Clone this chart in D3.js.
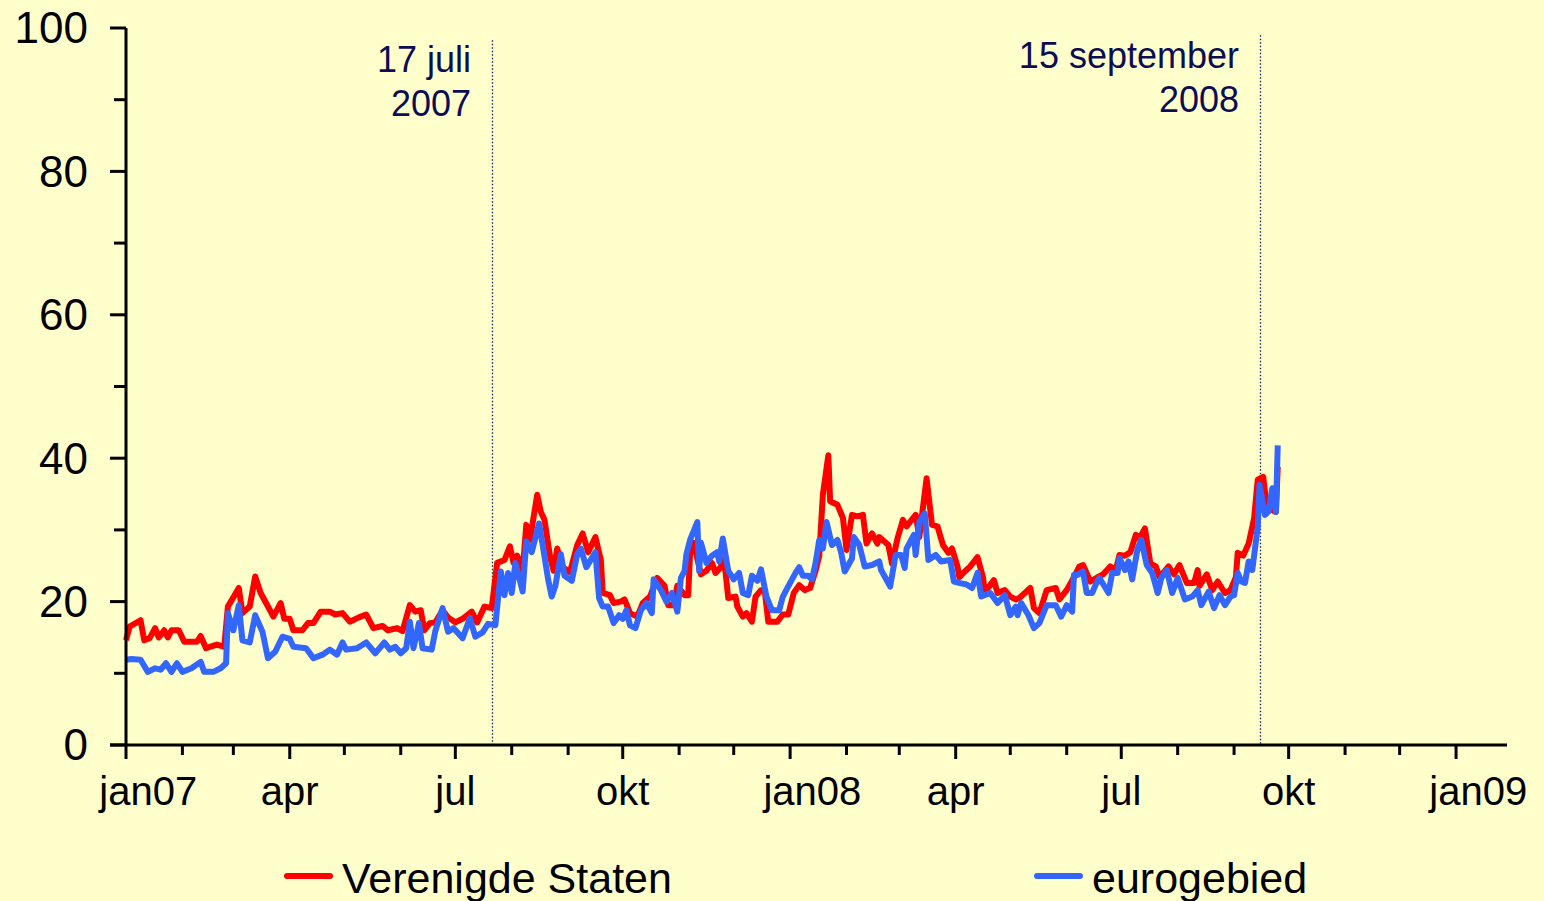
<!DOCTYPE html>
<html>
<head>
<meta charset="utf-8">
<script src="https://cdn.jsdelivr.net/npm/d3@7"></script>
<style>
  html, body { margin: 0; padding: 0; background: #FFFFCC; }
  svg { display: block; }
  text { font-family: "Liberation Sans", Arial, Helvetica, sans-serif; }
</style>
</head>
<body>
<svg id="chart" width="1544" height="901"></svg>
<script>
// ---------- data ----------
const usDates = ["2007-01-01","2007-01-03","2007-01-09","2007-01-11","2007-01-14","2007-01-17","2007-01-19","2007-01-22","2007-01-24","2007-01-26","2007-01-30","2007-02-02","2007-02-09","2007-02-11","2007-02-14","2007-02-20","2007-02-24","2007-02-26","2007-03-04","2007-03-06","2007-03-10","2007-03-13","2007-03-16","2007-03-19","2007-03-23","2007-03-27","2007-03-29","2007-04-01","2007-04-03","2007-04-08","2007-04-11","2007-04-14","2007-04-18","2007-04-23","2007-04-26","2007-04-30","2007-05-04","2007-05-09","2007-05-13","2007-05-17","2007-05-22","2007-05-25","2007-05-30","2007-06-02","2007-06-06","2007-06-09","2007-06-12","2007-06-14","2007-06-17","2007-06-20","2007-06-24","2007-06-27","2007-07-01","2007-07-05","2007-07-10","2007-07-13","2007-07-17","2007-07-21","2007-07-24","2007-07-28","2007-07-31","2007-08-02","2007-08-04","2007-08-07","2007-08-09","2007-08-11","2007-08-15","2007-08-17","2007-08-19","2007-08-22","2007-08-24","2007-08-26","2007-08-29","2007-09-02","2007-09-06","2007-09-09","2007-09-12","2007-09-16","2007-09-19","2007-09-20","2007-09-24","2007-09-26","2007-09-30","2007-10-02","2007-10-05","2007-10-09","2007-10-12","2007-10-16","2007-10-20","2007-10-24","2007-10-26","2007-10-29","2007-10-31","2007-11-04","2007-11-06","2007-11-07","2007-11-09","2007-11-13","2007-11-16","2007-11-19","2007-11-21","2007-11-24","2007-11-25","2007-11-28","2007-12-02","2007-12-03","2007-12-06","2007-12-08","2007-12-11","2007-12-13","2007-12-16","2007-12-18","2007-12-20","2007-12-25","2007-12-28","2007-12-31","2008-01-03","2008-01-06","2008-01-09","2008-01-12","2008-01-15","2008-01-17","2008-01-19","2008-01-22","2008-01-23","2008-01-27","2008-01-30","2008-02-01","2008-02-04","2008-02-07","2008-02-10","2008-02-12","2008-02-15","2008-02-18","2008-02-19","2008-02-24","2008-02-26","2008-02-29","2008-03-03","2008-03-05","2008-03-10","2008-03-12","2008-03-16","2008-03-19","2008-03-22","2008-03-25","2008-03-28","2008-03-30","2008-04-02","2008-04-03","2008-04-06","2008-04-09","2008-04-13","2008-04-16","2008-04-17","2008-04-22","2008-04-24","2008-04-28","2008-05-01","2008-05-04","2008-05-06","2008-05-12","2008-05-14","2008-05-17","2008-05-21","2008-05-26","2008-05-28","2008-06-01","2008-06-05","2008-06-08","2008-06-10","2008-06-14","2008-06-18","2008-06-21","2008-06-25","2008-06-28","2008-06-30","2008-07-03","2008-07-06","2008-07-09","2008-07-11","2008-07-14","2008-07-17","2008-07-20","2008-07-22","2008-07-27","2008-07-30","2008-08-02","2008-08-06","2008-08-10","2008-08-12","2008-08-13","2008-08-17","2008-08-20","2008-08-23","2008-08-27","2008-08-30","2008-09-02","2008-09-03","2008-09-06","2008-09-09","2008-09-12","2008-09-14","2008-09-17","2008-09-19","2008-09-23","2008-09-24","2008-09-25"];
const usValues = [14.6,16.5,17.4,14.6,14.9,16.3,15.0,16.0,15.0,16.0,16.0,14.4,14.4,15.2,13.5,14.0,13.7,19.3,21.9,18.4,19.3,23.5,21.2,19.8,17.9,19.8,17.6,17.6,16.0,16.0,17.0,17.0,18.6,18.6,18.2,18.4,17.2,17.8,18.2,16.3,16.6,16.0,16.3,15.9,19.5,18.6,18.8,16.0,17.0,17.1,18.8,17.8,17.1,17.6,18.6,17.1,19.3,19.1,25.4,25.8,27.7,25.4,26.4,24.3,30.7,28.6,34.9,32.5,31.4,26.4,24.3,27.4,24.8,24.1,27.9,29.5,26.9,29.0,25.8,21.2,20.9,19.8,20.0,20.3,18.4,17.9,19.8,20.7,23.3,22.2,19.5,19.5,22.2,20.9,20.9,26.7,28.2,23.8,24.3,25.4,24.0,24.8,27.7,20.5,20.7,19.3,17.9,18.4,17.2,20.7,21.6,21.6,17.2,17.2,18.2,18.2,21.2,22.3,21.6,21.9,24.3,26.4,34.9,40.4,34.0,33.5,31.7,27.2,32.1,31.9,32.1,28.1,29.5,28.1,29.0,27.9,25.3,28.8,31.4,30.5,32.1,29.0,37.2,30.7,30.5,27.9,26.8,27.4,24.9,23.4,24.2,24.9,26.2,23.4,21.3,23.0,21.2,21.6,20.7,20.3,20.5,21.9,19.1,18.4,21.6,21.9,20.3,21.6,23.4,24.9,25.1,22.8,23.4,23.8,24.9,24.4,26.5,26.4,26.9,29.3,28.8,30.2,25.3,24.9,23.4,24.9,23.8,25.1,22.6,22.6,24.4,22.2,23.8,21.6,22.8,21.2,21.6,23.4,26.8,26.4,28.1,31.6,37.0,37.4,33.2,32.6,32.5,38.8];

const euDates = ["2007-01-01","2007-01-04","2007-01-09","2007-01-13","2007-01-17","2007-01-20","2007-01-23","2007-01-26","2007-01-29","2007-02-01","2007-02-06","2007-02-11","2007-02-13","2007-02-18","2007-02-22","2007-02-25","2007-02-26","2007-03-01","2007-03-04","2007-03-06","2007-03-10","2007-03-13","2007-03-17","2007-03-20","2007-03-24","2007-03-28","2007-04-01","2007-04-03","2007-04-10","2007-04-14","2007-04-19","2007-04-23","2007-04-27","2007-04-30","2007-05-02","2007-05-08","2007-05-13","2007-05-18","2007-05-23","2007-05-26","2007-05-29","2007-06-01","2007-06-04","2007-06-06","2007-06-08","2007-06-11","2007-06-13","2007-06-18","2007-06-20","2007-06-24","2007-06-27","2007-06-30","2007-07-05","2007-07-09","2007-07-12","2007-07-16","2007-07-19","2007-07-23","2007-07-26","2007-07-28","2007-07-30","2007-08-01","2007-08-03","2007-08-07","2007-08-09","2007-08-12","2007-08-16","2007-08-18","2007-08-21","2007-08-23","2007-08-25","2007-08-28","2007-08-30","2007-09-03","2007-09-06","2007-09-08","2007-09-11","2007-09-16","2007-09-18","2007-09-20","2007-09-23","2007-09-26","2007-09-29","2007-10-01","2007-10-03","2007-10-05","2007-10-08","2007-10-11","2007-10-14","2007-10-17","2007-10-18","2007-10-22","2007-10-25","2007-10-28","2007-10-31","2007-11-02","2007-11-04","2007-11-05","2007-11-07","2007-11-11","2007-11-12","2007-11-13","2007-11-16","2007-11-19","2007-11-22","2007-11-23","2007-11-25","2007-11-28","2007-12-01","2007-12-04","2007-12-06","2007-12-09","2007-12-11","2007-12-14","2007-12-16","2007-12-19","2007-12-22","2007-12-26","2007-12-28","2008-01-01","2008-01-04","2008-01-06","2008-01-08","2008-01-11","2008-01-13","2008-01-15","2008-01-17","2008-01-19","2008-01-21","2008-01-24","2008-01-27","2008-01-29","2008-01-31","2008-02-04","2008-02-05","2008-02-08","2008-02-11","2008-02-15","2008-02-19","2008-02-20","2008-02-25","2008-02-28","2008-03-02","2008-03-04","2008-03-05","2008-03-09","2008-03-10","2008-03-12","2008-03-15","2008-03-17","2008-03-21","2008-03-24","2008-03-29","2008-03-31","2008-04-03","2008-04-07","2008-04-10","2008-04-13","2008-04-15","2008-04-20","2008-04-24","2008-04-28","2008-05-01","2008-05-04","2008-05-05","2008-05-07","2008-05-11","2008-05-14","2008-05-17","2008-05-21","2008-05-26","2008-05-29","2008-06-01","2008-06-04","2008-06-05","2008-06-07","2008-06-10","2008-06-12","2008-06-15","2008-06-17","2008-06-19","2008-06-24","2008-06-26","2008-06-29","2008-06-30","2008-07-03","2008-07-05","2008-07-07","2008-07-10","2008-07-12","2008-07-15","2008-07-18","2008-07-21","2008-07-23","2008-07-26","2008-07-29","2008-08-01","2008-08-05","2008-08-09","2008-08-12","2008-08-14","2008-08-18","2008-08-21","2008-08-24","2008-08-27","2008-08-30","2008-09-01","2008-09-03","2008-09-05","2008-09-07","2008-09-09","2008-09-11","2008-09-14","2008-09-15","2008-09-18","2008-09-20","2008-09-22","2008-09-24","2008-09-25"];
const euValues = [11.9,12.0,11.9,10.2,10.7,10.5,11.4,10.2,11.4,10.2,10.7,11.6,10.2,10.2,10.7,11.4,18.4,16.0,19.5,14.6,14.3,18.1,15.8,12.1,13.0,15.1,14.8,13.7,13.5,12.1,12.6,13.3,12.6,14.3,13.3,13.5,14.3,12.8,14.3,13.3,13.7,12.8,13.5,17.2,13.5,17.0,13.5,13.3,15.9,19.1,15.8,16.3,14.9,17.7,15.1,15.7,16.9,16.7,24.2,20.9,24.0,21.2,25.4,21.4,28.4,26.9,30.9,27.9,23.1,20.7,22.2,26.6,23.6,22.9,26.6,27.4,24.8,26.9,20.5,19.3,19.3,17.0,18.1,17.6,18.8,16.7,16.3,18.8,19.8,18.4,23.1,21.6,20.0,21.2,18.6,23.3,24.3,26.6,28.6,31.1,24.3,28.2,25.4,26.4,26.9,25.6,28.8,24.3,23.1,24.0,21.2,20.9,23.6,22.9,24.5,20.7,18.8,18.8,20.7,22.6,24.0,24.8,23.6,23.6,23.1,25.4,28.6,27.4,31.1,27.9,28.6,26.9,24.2,26.0,29.0,27.9,24.9,25.1,25.6,24.4,22.1,26.5,26.5,24.7,27.4,29.3,26.5,31.1,32.3,25.8,26.5,25.6,25.8,22.8,22.6,22.4,21.9,24.0,20.7,21.2,19.8,20.9,18.1,19.3,18.1,19.8,18.1,16.3,17.0,19.5,19.5,17.9,19.5,18.6,23.7,23.7,24.2,21.2,21.2,22.4,23.3,21.2,24.0,24.0,26.1,24.4,25.6,23.1,27.4,28.6,25.1,24.0,21.2,23.3,24.4,21.2,23.3,20.3,20.7,21.6,19.5,21.4,19.1,20.9,19.5,20.7,20.9,24.0,22.8,22.6,25.6,24.4,30.4,36.3,32.1,32.6,35.8,32.5,41.8];

const seriesNames = ["Verenigde Staten", "eurogebied"];
const yTickValues = [0, 20, 40, 60, 80, 100];
const xTickDates = ["2007-01-01","2007-04-01","2007-07-01","2007-10-01","2008-01-01","2008-04-01","2008-07-01","2008-10-01","2009-01-01"];
const xTickLabels = ["jan07","apr","jul","okt","jan08","apr","jul","okt","jan09"];
const eventDates = ["2007-07-21", "2008-09-15"];
const eventLabels = [["17 juli", "2007"], ["15 september", "2008"]];

// ---------- drawing ----------
const parse = d3.utcParse("%Y-%m-%d");
const svg = d3.select("#chart");
const colors = ["#FF0000", "#3366FF"];

svg.append("rect").attr("width", 1544).attr("height", 901).attr("fill", "#FFFFCC");

const x = d3.scaleUtc()
  .domain([parse("2007-01-01"), parse("2009-01-29")])
  .range([126, 1507]);
const y = d3.scaleLinear().domain([0, 100]).range([745, 28]);

// event lines + labels
const evTop = [98.3, 99.0];
eventDates.forEach((d, i) => {
  const ex = Math.round(x(parse(d))) + 0.5;
  svg.append("line")
    .attr("x1", ex).attr("x2", ex)
    .attr("y1", y(evTop[i])).attr("y2", y(0))
    .attr("stroke", "#1a1a66").attr("stroke-width", 1.3)
    .attr("stroke-dasharray", "1.5,2");
  const t = svg.append("text")
    .attr("text-anchor", "end")
    .attr("fill", "#0d0d55")
    .attr("font-size", 36);
  const base = i === 0 ? 72 : 68;
  eventLabels[i].forEach((s, j) => {
    t.append("tspan").attr("x", ex - 21.5).attr("y", base + j * 44).text(s);
  });
});

// series
const line = d3.line().x(d => x(d[0])).y(d => y(d[1]));
const usData = usDates.map((d, i) => [parse(d), usValues[i]]);
const euData = euDates.map((d, i) => [parse(d), euValues[i]]);
[usData, euData].forEach((data, i) => {
  svg.append("path")
    .datum(data)
    .attr("d", line)
    .attr("fill", "none")
    .attr("stroke", colors[i])
    .attr("stroke-width", 6)
    .attr("stroke-linejoin", "round");
});

// Y axis
const yMinor = d3.range(10, 100, 20);
const gy = svg.append("g");
gy.append("line").attr("x1", 126).attr("x2", 126).attr("y1", y(100)).attr("y2", y(0))
  .attr("stroke", "#000").attr("stroke-width", 3);
yTickValues.forEach(v => {
  gy.append("line").attr("x1", 110).attr("x2", 126).attr("y1", y(v)).attr("y2", y(v))
    .attr("stroke", "#000").attr("stroke-width", 3);
  gy.append("text").attr("x", 88).attr("y", y(v)).attr("dy", "0.35em")
    .attr("text-anchor", "end").attr("font-size", 44).attr("fill", "#000").text(v);
});
yMinor.forEach(v => {
  gy.append("line").attr("x1", 114).attr("x2", 126).attr("y1", y(v)).attr("y2", y(v))
    .attr("stroke", "#000").attr("stroke-width", 3);
});

// X axis
const gx = svg.append("g");
gx.append("line").attr("x1", 110).attr("x2", 1507).attr("y1", y(0)).attr("y2", y(0))
  .attr("stroke", "#000").attr("stroke-width", 3);
const months = d3.utcMonth.range(parse("2007-01-01"), parse("2009-01-02"));
months.forEach(m => {
  const major = m.getUTCMonth() % 3 === 0;
  const mx = x(m);
  gx.append("line").attr("x1", mx).attr("x2", mx)
    .attr("y1", y(0)).attr("y2", y(0) + (major ? 14 : 10))
    .attr("stroke", "#000").attr("stroke-width", 3);
});
xTickDates.forEach((d, i) => {
  const tx = x(parse(d));
  const t = gx.append("text").attr("y", 805).attr("font-size", 40).attr("fill", "#000")
    .attr("text-anchor", "start").text(xTickLabels[i]);
  const full = t.node().getComputedTextLength();
  const lbl = xTickLabels[i];
  // centre the month part ("jan", "apr", ...) on the tick
  const monthLen = lbl.length > 3 ? t.node().getSubStringLength(0, 3) : full;
  t.attr("x", tx - monthLen / 2);
});

// legend
const legendX = [287, 1037];
seriesNames.forEach((name, i) => {
  svg.append("line").attr("x1", legendX[i]).attr("x2", legendX[i] + 43)
    .attr("y1", 876).attr("y2", 876)
    .attr("stroke", colors[i]).attr("stroke-width", 6).attr("stroke-linecap", "round");
  svg.append("text").attr("x", legendX[i] + 55).attr("y", 893)
    .attr("font-size", 43).attr("fill", "#000").text(name);
});
</script>
</body>
</html>
